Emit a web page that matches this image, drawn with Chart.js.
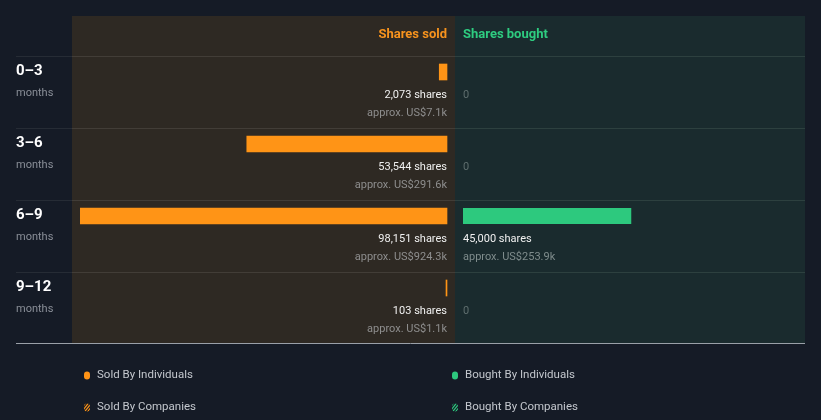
<!DOCTYPE html>
<html>
<head>
<meta charset="utf-8">
<script src="https://cdn.jsdelivr.net/npm/chart.js@4.4.0/dist/chart.umd.min.js"></script>
<style>
  html, body { margin: 0; padding: 0; background: #151b26; }
</style>
</head>
<body>
<canvas id="insiderChart" width="821" height="420"></canvas>
<script>
// data
var periods = ['0–3', '3–6', '6–9', '9–12'];
var soldShares = [2073, 53544, 98151, 103];
var soldValue = ['US$7.1k', 'US$291.6k', 'US$924.3k', 'US$1.1k'];
var boughtShares = [0, 0, 45000, 0];
var boughtValue = ['', '', 'US$253.9k', ''];
var legendLabels = ['Sold By Individuals', 'Bought By Individuals', 'Sold By Companies', 'Bought By Companies'];

var ORANGE = '#ff9416';
var GREEN = '#2dc97e';

// layout
var LEFT = 80, RIGHT = 805, SOLD_ZERO = 447, BOUGHT_ZERO = 463;
var soldMax = Math.max.apply(null, soldShares);
var perPx = soldMax / (SOLD_ZERO - LEFT);

function fmt(n) {
    return n.toLocaleString('en-US');
}

var panelPlugin = {
    id: 'panels',
    beforeDraw: function (chart) {
        var ctx = chart.ctx;
        var y = chart.scales.y;
        ctx.save();
        ctx.fillStyle = '#151b26';
        ctx.fillRect(0, 0, chart.width, chart.height);
        ctx.fillStyle = '#2e2923';
        ctx.fillRect(72, 16, 383, 327);
        ctx.fillStyle = '#1a2b2e';
        ctx.fillRect(455, 16, 350, 327);

        // header
        ctx.font = 'bold 13px Roboto';
        ctx.textBaseline = 'middle';
        ctx.textAlign = 'right';
        ctx.fillStyle = '#f7931e';
        ctx.fillText('Shares sold', SOLD_ZERO, 35);
        ctx.textAlign = 'left';
        ctx.fillStyle = '#2ecc80';
        ctx.fillText('Shares bought', BOUGHT_ZERO, 35);

        // row separators and row labels
        periods.forEach(function (p, i) {
            var top = Math.round(y.getPixelForValue(i) - 16) + 0.5;
            ctx.lineWidth = 1;
            ctx.strokeStyle = '#262c35';
            ctx.beginPath(); ctx.moveTo(16, top); ctx.lineTo(72, top); ctx.stroke();
            ctx.strokeStyle = '#423d37';
            ctx.beginPath(); ctx.moveTo(72, top); ctx.lineTo(455, top); ctx.stroke();
            ctx.strokeStyle = '#2d403f';
            ctx.beginPath(); ctx.moveTo(455, top); ctx.lineTo(805, top); ctx.stroke();

            var yc = y.getPixelForValue(i);
            ctx.textAlign = 'left';
            ctx.fillStyle = '#ffffff';
            ctx.font = 'bold 15px Roboto';
            ctx.fillText(p, 16, yc - 1);
            ctx.fillStyle = '#8a8f98';
            ctx.font = '11px Roboto';
            ctx.fillText('months', 16, yc + 21);
        });
        ctx.strokeStyle = '#9aa0a8';
        ctx.beginPath(); ctx.moveTo(16, 343.5); ctx.lineTo(805, 343.5); ctx.stroke();
        ctx.restore();
    },
    afterDatasetsDraw: function (chart) {
        var ctx = chart.ctx;
        var y = chart.scales.y;
        ctx.save();
        ctx.textBaseline = 'middle';
        periods.forEach(function (p, i) {
            var yc = y.getPixelForValue(i);
            ctx.font = '11px Roboto';
            ctx.textAlign = 'right';
            ctx.fillStyle = '#f0f0f0';
            ctx.fillText(fmt(soldShares[i]) + ' shares', SOLD_ZERO, yc + 23);
            ctx.fillStyle = '#8e8e8e';
            ctx.fillText('approx. ' + soldValue[i], SOLD_ZERO, yc + 41);

            ctx.textAlign = 'left';
            if (boughtShares[i] > 0) {
                ctx.fillStyle = '#f0f0f0';
                ctx.fillText(fmt(boughtShares[i]) + ' shares', BOUGHT_ZERO, yc + 23);
                ctx.fillStyle = '#7f8c8c';
                ctx.fillText('approx. ' + boughtValue[i], BOUGHT_ZERO, yc + 41);
            } else {
                ctx.fillStyle = '#5f6e6e';
                ctx.fillText('0', BOUGHT_ZERO, yc + 23);
            }
        });
        ctx.restore();
    },
    afterDraw: function (chart) {
        var ctx = chart.ctx;
        ctx.save();
        ctx.textBaseline = 'middle';
        ctx.textAlign = 'left';
        ctx.font = '11.5px Roboto';
        legendLabels.forEach(function (label, i) {
            var x = i % 2 === 0 ? 87 : 455;
            var yy = i < 2 ? 375.5 : 407.5;
            var color = label.indexOf('Sold') === 0 ? ORANGE : GREEN;
            ctx.beginPath();
            ctx.roundRect(x - 3, yy - 4, 6, 8, 3);
            if (i < 2) {
                ctx.fillStyle = color;
                ctx.fill();
            } else {
                ctx.save();
                ctx.clip();
                ctx.strokeStyle = color;
                ctx.lineWidth = 1.2;
                for (var d = -8; d <= 8; d += 3) {
                    ctx.beginPath();
                    ctx.moveTo(x - 4 + d, yy + 5);
                    ctx.lineTo(x + 4 + d, yy - 5);
                    ctx.stroke();
                }
                ctx.restore();
            }
            ctx.fillStyle = '#c3c7cd';
            ctx.fillText(label, x + 10, yy);
        });
        ctx.restore();
    }
};

new Chart(document.getElementById('insiderChart'), {
    type: 'bar',
    data: {
        labels: periods,
        datasets: [{
            label: 'Shares sold',
            data: soldShares,
            xAxisID: 'xs',
            backgroundColor: ORANGE,
            barThickness: 16,
            minBarLength: 1,
            grouped: false
        }, {
            label: 'Shares bought',
            data: boughtShares,
            xAxisID: 'xb',
            backgroundColor: GREEN,
            barThickness: 16,
            inflateAmount: 0,
            grouped: false
        }]
    },
    options: {
        indexAxis: 'y',
        responsive: false,
        animation: false,
        layout: { padding: { left: LEFT, right: 821 - RIGHT, top: 36, bottom: 96 } },
        plugins: { legend: { display: false }, tooltip: { enabled: false } },
        scales: {
            y: { display: false },
            xs: {
                display: false,
                reverse: true,
                min: -(RIGHT - SOLD_ZERO) * perPx,
                max: soldMax
            },
            xb: {
                display: false,
                min: -(BOUGHT_ZERO - LEFT) * perPx,
                max: (RIGHT - BOUGHT_ZERO) * perPx
            }
        }
    },
    plugins: [panelPlugin]
});
</script>
</body>
</html>
